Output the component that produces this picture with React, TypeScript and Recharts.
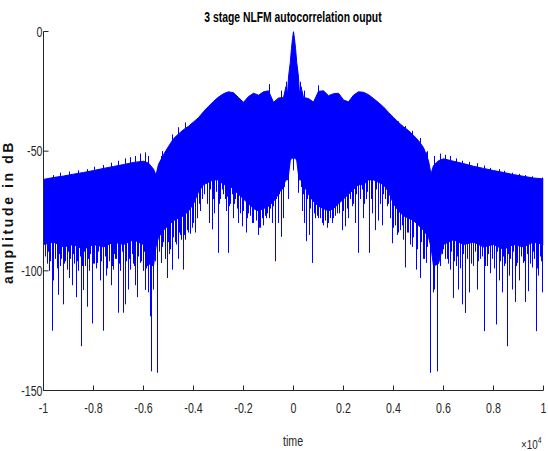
import React from 'react';
import { ComposedChart, Area, Bar, XAxis, YAxis } from 'recharts';

const FONT = '"Liberation Sans", Arial, sans-serif';
const BLUE = '#0000ff';
const SQUEEZE = 0.76;

const xTicks = [-1, -0.8, -0.6, -0.4, -0.2, 0, 0.2, 0.4, 0.6, 0.8, 1];
const yTicks = [-150, -100, -50, 0];

// Dense band (x in units of 1e4): left half
const envXLeft = [-1.0, -0.96, -0.92, -0.88, -0.84, -0.8, -0.76, -0.72, -0.68, -0.64, -0.6, -0.58, -0.56, -0.55, -0.54, -0.52, -0.5, -0.48, -0.46, -0.44, -0.42, -0.4, -0.38, -0.36, -0.34, -0.32, -0.3, -0.28, -0.26, -0.24, -0.22, -0.2, -0.18, -0.16, -0.14, -0.12, -0.1, -0.08, -0.06, -0.04, -0.03, -0.024, -0.02, -0.013, -0.008, -0.004, 0];
const envHiLeft = [-61.8, -61.0, -60.4, -59.6, -58.9, -58.1, -57.2, -56.4, -55.6, -54.7, -54.2, -55.0, -57.5, -60.0, -55.5, -51.5, -48.0, -44.8, -42.8, -41.0, -39.6, -37.8, -36.0, -33.5, -31.3, -29.2, -27.4, -26.0, -25.2, -25.6, -27.6, -29.6, -27.2, -25.8, -26.6, -25.2, -24.8, -29.6, -27.8, -27.6, -23.0, -26.5, -19.0, -13.0, -7.0, -3.0, 0];
const envLoLeft = [-89, -88, -90, -89, -91, -89, -90, -88, -89, -87, -89, -97, -98, -90, -86, -83, -81, -79, -78, -77, -75, -72, -67, -64, -63, -62, -62, -64, -64, -66, -68, -70, -72, -74, -75, -74, -73, -71, -68, -64, -62, -62, -60, -54, -53, -53, -53];

// Dense band: right half
const envXRight = [0.004, 0.008, 0.013, 0.02, 0.024, 0.03, 0.04, 0.06, 0.08, 0.1, 0.12, 0.14, 0.16, 0.18, 0.2, 0.22, 0.24, 0.26, 0.28, 0.3, 0.32, 0.34, 0.36, 0.38, 0.4, 0.42, 0.44, 0.46, 0.48, 0.5, 0.52, 0.54, 0.55, 0.56, 0.58, 0.6, 0.64, 0.68, 0.72, 0.76, 0.8, 0.84, 0.88, 0.92, 0.96, 1.0];
const envHiRight = [-3.0, -7.0, -13.0, -19.0, -26.5, -23.0, -27.6, -28.0, -29.5, -25.0, -24.8, -26.8, -26.0, -25.8, -28.6, -29.4, -26.6, -25.2, -25.4, -26.4, -28.0, -29.7, -31.5, -33.8, -35.9, -38.0, -39.8, -41.4, -43.4, -45.6, -48.5, -54.0, -59.5, -56.0, -54.0, -53.2, -54.2, -55.2, -56.3, -57.2, -58.1, -58.9, -59.8, -60.5, -61.2, -61.6];
const envLoRight = [-53, -53, -54, -60, -62, -62, -64, -68, -71, -73, -74, -75, -74, -72, -70, -68, -66, -64, -64, -62, -62, -63, -64, -67, -72, -75, -77, -78, -79, -81, -83, -86, -90, -98, -97, -89, -87, -89, -88, -90, -89, -91, -89, -90, -88, -89];

// Individual long spikes: left half
const spikeXLeft = [-0.998, -0.985, -0.975, -0.965, -0.958, -0.95, -0.939, -0.93, -0.921, -0.912, -0.905, -0.895, -0.885, -0.875, -0.868, -0.858, -0.849, -0.84, -0.832, -0.825, -0.815, -0.805, -0.795, -0.783, -0.772, -0.759, -0.748, -0.742, -0.735, -0.729, -0.721, -0.712, -0.699, -0.69, -0.679, -0.672, -0.659, -0.65, -0.64, -0.632, -0.625, -0.612, -0.6, -0.592, -0.585, -0.578, -0.572, -0.569, -0.56, -0.552, -0.543, -0.536, -0.529, -0.518, -0.505, -0.495, -0.485, -0.472, -0.459, -0.45, -0.441, -0.43, -0.42, -0.412, -0.4, -0.392, -0.37, -0.335, -0.324, -0.315, -0.301, -0.29, -0.279, -0.268, -0.259, -0.25, -0.24, -0.23, -0.218, -0.205, -0.189, -0.178, -0.165, -0.152, -0.14, -0.13, -0.119, -0.108, -0.095, -0.085, -0.072, -0.06, -0.047, -0.038, -0.027, -0.019];
const spikeLowLeft = [-111, -97, -100, -125, -104, -95, -110, -98, -114, -96, -99.5, -103, -106, -97, -111, -100, -131.5, -108, -98, -115, -100, -122, -97, -96.7, -104, -125, -102, -99, -96, -106, -99.5, -95, -117.5, -100, -117.5, -114, -107.8, -99.5, -97, -106, -111, -96.7, -100, -108, -98, -109, -119, -142, -107.8, -96, -142.6, -92, -96.7, -88, -103, -93, -99.5, -88, -95, -85, -99.5, -87, -84, -84.5, -80, -84, -75, -80, -82.7, -76, -92.5, -70, -68, -75, -92.5, -72, -78, -70, -80, -81.4, -84, -76, -80, -70, -85, -82, -81, -78, -78, -80, -96, -80, -85.8, -78, -60, -70];
const spikeTopLeft = [-70, -70, -70, -70, -60, -70, -70, -59, -70, -70, -70, -58.5, -70, -70, -70, -58, -70, -70, -70, -57.5, -70, -70, -56.5, -70, -70, -55.8, -70, -70, -70, -54.8, -70, -70, -54, -70, -70, -53, -70, -52.5, -70, -52, -70, -51, -70, -50.5, -70, -52, -70, -70, -70, -70, -60, -70, -52, -60, -60, -60, -43, -60, -40, -60, -60, -38, -60, -60, -60, -60, -60, -55, -55, -55, -55, -55, -55, -55, -55, -55, -55, -55, -55, -55, -55, -55, -55, -55, -55, -55, -55, -55, -22, -55, -55, -55, -24.7, -55, -21, -45];

// Individual long spikes: right half
const spikeXRight = [0, 0.021, 0.027, 0.035, 0.045, 0.052, 0.065, 0.077, 0.09, 0.101, 0.121, 0.141, 0.161, 0.178, 0.195, 0.208, 0.222, 0.235, 0.248, 0.261, 0.281, 0.292, 0.305, 0.318, 0.328, 0.34, 0.355, 0.375, 0.395, 0.408, 0.421, 0.435, 0.448, 0.461, 0.475, 0.492, 0.508, 0.521, 0.532, 0.548, 0.559, 0.564, 0.575, 0.588, 0.599, 0.608, 0.628, 0.641, 0.652, 0.661, 0.675, 0.688, 0.705, 0.721, 0.735, 0.748, 0.764, 0.777, 0.788, 0.812, 0.823, 0.835, 0.844, 0.855, 0.865, 0.875, 0.888, 0.897, 0.905, 0.919, 0.928, 0.941, 0.955, 0.972, 0.981, 0.995];
const spikeLowRight = [-58, -67.4, -60, -75, -80, -87.6, -85, -96.7, -78, -78, -81, -80, -78, -76, -83, -81.4, -78, -73, -80, -92.5, -78, -70, -92.5, -76, -83, -79, -81, -73, -88.5, -81, -84, -81, -98.6, -84, -90, -99.5, -103, -95, -96.7, -142.6, -109, -107.8, -142, -96.7, -91, -95, -99.5, -111.3, -98, -107.8, -114, -117.6, -109, -98, -107.8, -95, -125.2, -98, -101, -122.4, -104, -109, -98, -131.5, -102, -107.8, -113, -96.7, -104, -96.7, -113, -108.5, -98.6, -125.2, -102, -109];
const spikeTopRight = [-40, -45, -21, -50, -24.7, -55, -55, -55, -55, -22.5, -55, -55, -55, -55, -55, -55, -55, -55, -55, -55, -55, -55, -55, -55, -55, -55, -55, -60, -60, -60, -37.5, -60, -39.5, -60, -41.5, -60, -44.5, -60, -50.5, -60, -70, -52, -70, -51, -70, -51.5, -52, -70, -53, -70, -54, -70, -54.5, -70, -55, -70, -56, -70, -57, -70, -57.5, -70, -58.2, -70, -70, -59, -70, -70, -59.5, -70, -60, -70, -60.5, -70, -70, -61];

// Short fringe spikes hanging from the band (outer and inner parts)
const fringeOuterTop = -75;
const fringeInnerTop = -50;
const fringeXOutL = [-0.993, -0.98, -0.97, -0.961, -0.945, -0.934, -0.926, -0.916, -0.9, -0.89, -0.88, -0.863, -0.853, -0.844, -0.836, -0.82, -0.81, -0.8, -0.789, -0.778, -0.766, -0.753, -0.725, -0.716, -0.706, -0.694, -0.684, -0.666, -0.654, -0.645, -0.636, -0.618, -0.606, -0.596, -0.588];
const fringeLowOutL = [-94, -92, -96, -93, -99, -93, -95, -97, -92, -95, -93, -96, -94, -98, -92, -95, -93, -97, -99, -92, -96, -94, -98, -93, -95, -97, -92, -96, -95, -93, -98, -94, -96, -92, -99];
const fringeXInL = [-0.525, -0.512, -0.5, -0.49, -0.478, -0.466, -0.454, -0.446, -0.435, -0.425, -0.405, -0.385, -0.375, -0.362, -0.355, -0.345, -0.33, -0.318, -0.308, -0.295, -0.284, -0.272, -0.263, -0.254, -0.245, -0.235, -0.225, -0.212, -0.198, -0.184, -0.172, -0.158, -0.146, -0.135, -0.124, -0.113, -0.102, -0.09, -0.078, -0.066, -0.054, -0.042, -0.034];
const fringeLowInL = [-90, -95, -88, -91, -86, -89, -84, -87, -85, -83, -82, -78, -72, -70, -68, -72, -66, -70, -67, -72, -66, -70, -69, -73, -68, -72, -74, -76, -75, -78, -77, -80, -79, -82, -78, -77, -76, -74, -73, -70, -68, -66, -65];
const fringeXInR = [0.034, 0.042, 0.056, 0.07, 0.083, 0.095, 0.108, 0.115, 0.128, 0.135, 0.148, 0.155, 0.168, 0.185, 0.2, 0.215, 0.228, 0.242, 0.254, 0.268, 0.275, 0.286, 0.298, 0.312, 0.334, 0.348, 0.362, 0.368, 0.382, 0.39, 0.402, 0.415, 0.428, 0.442, 0.455, 0.468, 0.482, 0.498, 0.514, 0.526, 0.538];
const fringeLowInR = [-65, -68, -70, -74, -76, -77, -78, -80, -79, -82, -78, -80, -77, -76, -75, -74, -70, -72, -68, -70, -66, -72, -67, -70, -66, -72, -68, -70, -72, -78, -82, -85, -83, -87, -84, -89, -86, -91, -88, -95, -90];
const fringeXOutR = [0.59, 0.597, 0.615, 0.622, 0.634, 0.646, 0.657, 0.668, 0.682, 0.695, 0.712, 0.728, 0.741, 0.756, 0.77, 0.782, 0.795, 0.804, 0.818, 0.829, 0.84, 0.85, 0.86, 0.87, 0.882, 0.893, 0.911, 0.923, 0.935, 0.947, 0.961, 0.966, 0.976, 0.987, 0.992];
const fringeLowOutR = [-98, -93, -95, -97, -92, -96, -94, -99, -93, -95, -97, -92, -96, -94, -98, -93, -95, -99, -92, -96, -94, -97, -93, -95, -92, -98, -94, -96, -93, -97, -92, -95, -99, -94, -96];

type Row = { x: number; band?: [number, number]; spike?: [number, number] };

function buildRows(): Row[] {
  const rows: Row[] = [];
  const addBand = (xs: number[], lo: number[], hi: number[]) =>
    xs.forEach((x, i) => rows.push({ x, band: [lo[i], hi[i]] }));
  const addSpikes = (xs: number[], lo: number[], hi: number[]) =>
    xs.forEach((x, i) => rows.push({ x, spike: [lo[i], hi[i]] }));
  const addFringe = (xs: number[], lo: number[], top: number) =>
    xs.forEach((x, i) => rows.push({ x, spike: [lo[i], top] }));
  addBand(envXLeft, envLoLeft, envHiLeft);
  addBand(envXRight, envLoRight, envHiRight);
  addSpikes(spikeXLeft, spikeLowLeft, spikeTopLeft);
  addSpikes(spikeXRight, spikeLowRight, spikeTopRight);
  addFringe(fringeXOutL, fringeLowOutL, fringeOuterTop);
  addFringe(fringeXInL, fringeLowInL, fringeInnerTop);
  addFringe(fringeXInR, fringeLowInR, fringeInnerTop);
  addFringe(fringeXOutR, fringeLowOutR, fringeOuterTop);
  rows.sort((a, b) => a.x - b.x);
  return rows;
}

const rows = buildRows();

const fmtX = (v: number) => String(Number(Number(v).toFixed(1)));

const XTick = (props: any) => {
  const { x, y, payload } = props;
  return (
    <g transform={`translate(${x},${y}) scale(${SQUEEZE},1)`}>
      <text x={0} y={0} dy="0.71em" textAnchor="middle" fontSize={14} fontFamily={FONT} fill="#262626">
        {fmtX(payload.value)}
      </text>
    </g>
  );
};

const YTick = (props: any) => {
  const { x, y, payload } = props;
  return (
    <g transform={`translate(${x},${y}) scale(${SQUEEZE},1)`}>
      <text x={0} y={0} dy="0.36em" textAnchor="end" fontSize={14} fontFamily={FONT} fill="#262626">
        {String(payload.value)}
      </text>
    </g>
  );
};

// Each spike is drawn as a 1px stroke through the centre of the bar the library positioned.
const SpikeShape = (props: any) => {
  const { x, y, width, height } = props;
  if (x == null || y == null || !isFinite(x) || !isFinite(y)) return <g />;
  const cx = Math.floor(x + (width || 0) / 2) + 0.5;
  return <line x1={cx} x2={cx} y1={y} y2={y + height} stroke={BLUE} strokeWidth={1} />;
};

export default function App() {
  return (
    <div style={{ position: 'absolute', left: 0, top: 0, width: 548, height: 451, background: '#fff' }}>
      <ComposedChart
        width={548}
        height={451}
        data={rows}
        margin={{ top: 31.5, right: 4.5, bottom: 30.5, left: 0 }}
      >
        <XAxis
          dataKey="x"
          type="number"
          domain={[-1, 1]}
          ticks={xTicks}
          allowDataOverflow
          height={30}
          tickSize={-5}
          tickMargin={18}
          tick={XTick}
          axisLine={{ stroke: '#262626' }}
          tickLine={{ stroke: '#262626' }}
        />
        <XAxis
          xAxisId="top"
          orientation="top"
          dataKey="x"
          type="number"
          domain={[-1, 1]}
          ticks={xTicks}
          allowDataOverflow
          height={0}
          tickSize={-5}
          tick={false}
          axisLine={{ stroke: '#a0a0a0' }}
          tickLine={{ stroke: '#262626' }}
        />
        <YAxis
          type="number"
          domain={[-150, 0]}
          ticks={yTicks}
          allowDataOverflow
          width={43.5}
          tickSize={-5}
          tickMargin={6}
          tick={YTick}
          axisLine={{ stroke: '#262626' }}
          tickLine={{ stroke: '#262626' }}
        />
        <YAxis
          yAxisId="right"
          orientation="right"
          type="number"
          domain={[-150, 0]}
          ticks={yTicks}
          allowDataOverflow
          width={0}
          tickSize={-5}
          tick={false}
          axisLine={{ stroke: '#404040' }}
          tickLine={{ stroke: '#262626' }}
        />
        <Area
          dataKey="band"
          type="linear"
          stroke={BLUE}
          strokeWidth={1}
          fill={BLUE}
          fillOpacity={1}
          connectNulls
          dot={false}
          activeDot={false}
          isAnimationActive={false}
        />
        <Bar dataKey="spike" fill={BLUE} barSize={1} shape={SpikeShape} isAnimationActive={false} />
      </ComposedChart>

      <div
        style={{
          position: 'absolute', left: 143, top: 9, width: 300, textAlign: 'center',
          fontFamily: FONT, fontWeight: 'bold', fontSize: 14, lineHeight: '16px', color: '#000',
          whiteSpace: 'nowrap', transform: 'scaleX(0.74)', transformOrigin: '50% 50%',
        }}
      >
        3 stage NLFM autocorrelation ouput
      </div>

      <div
        style={{
          position: 'absolute', left: 243, top: 434, width: 100, textAlign: 'center',
          fontFamily: FONT, fontSize: 14, lineHeight: '14px', color: '#262626',
          transform: `scaleX(${SQUEEZE})`, transformOrigin: '50% 50%',
        }}
      >
        time
      </div>

      <div
        style={{
          position: 'absolute', left: 521, top: 438, fontFamily: FONT, fontSize: 13,
          lineHeight: '13px', color: '#262626', whiteSpace: 'nowrap',
          transform: `scaleX(${SQUEEZE})`, transformOrigin: '0 50%',
        }}
      >
        ×10<sup style={{ fontSize: 9, verticalAlign: 'top', position: 'relative', top: -4 }}>4</sup>
      </div>

      <div
        style={{
          position: 'absolute', left: -92, top: 203.5, width: 200, height: 16,
          transform: 'rotate(-90deg)', transformOrigin: '50% 50%', textAlign: 'center',
          fontFamily: FONT, fontWeight: 'bold', fontSize: 14, lineHeight: '16px',
          letterSpacing: '2.6px', color: '#111', whiteSpace: 'nowrap',
        }}
      >
        amplitude in dB
      </div>
    </div>
  );
}
